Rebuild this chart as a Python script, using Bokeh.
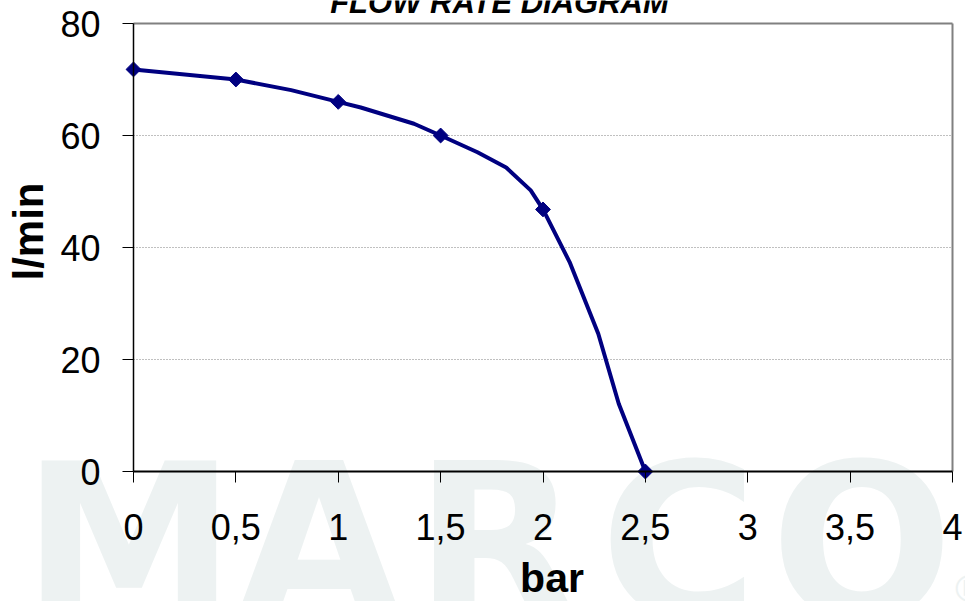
import math
from bokeh.plotting import figure
from bokeh.models import Label, FixedTicker, LinearAxis, Grid, Range1d
from bokeh.embed import file_html
from bokeh.resources import INLINE

# ---- data ----
TITLE = "FLOW RATE DIAGRAM"
X_LABEL = "bar"
Y_LABEL = "l/min"
X_TICKS = [0, 0.5, 1, 1.5, 2, 2.5, 3, 3.5, 4]
X_TICK_LABELS = ["0", "0,5", "1", "1,5", "2", "2,5", "3", "3,5", "4"]
Y_TICKS = [0, 20, 40, 60, 80]
GRID_Y = [20, 40, 60]

# measured points (markers)
pressure_pts = [0, 0.5, 1, 1.5, 2, 2.5]
flow_pts = [71.8, 70, 66, 60, 46.8, 0]

# curve through the measurements (line)
pressure_curve = [0, 0.5, 0.77, 1, 1.11, 1.37, 1.5, 1.68, 1.82, 1.94, 2, 2.13, 2.27, 2.37, 2.5]
flow_curve = [71.8, 70, 68.1, 66, 65.0, 62.1, 60, 57.0, 54.3, 50.2, 46.8, 37.4, 24.6, 12.1, 0]

WATERMARK = ["M", "A", "R", "C", "O"]

# ---- layout (pixels) ----
W, H = 965, 601
X_MIN, X_MAX = 0, 4
Y_MIN, Y_MAX = 0, 80
PLOT_L, PLOT_R, PLOT_T, PLOT_B = 133, 952, 23, 471
sx = (PLOT_R - PLOT_L) / (X_MAX - X_MIN)
sy = (PLOT_B - PLOT_T) / (Y_MAX - Y_MIN)
BASE_K = 0.345  # label anchor sits this fraction of the font size above the drawn baseline


def dx(px):
    return X_MIN + (px - PLOT_L) / sx


def dy(py):
    return Y_MIN + (PLOT_B - py) / sy


NAVY = "#000080"
WM_COLOR = "#edf2f2"

p = figure(width=W, height=H,
           x_range=Range1d(dx(0), dx(W)), y_range=Range1d(dy(H), dy(0)),
           x_axis_location=None, y_axis_location=None,
           output_backend="svg", toolbar_location=None, min_border=0)
p.background_fill_color = "white"
p.border_fill_color = "white"
p.outline_line_color = None
p.xgrid.visible = False
p.ygrid.visible = False

# axes fixed at the origin of the chart
xaxis = LinearAxis(fixed_location=Y_MIN, bounds=(X_MIN, X_MAX),
                   ticker=FixedTicker(ticks=X_TICKS),
                   major_label_overrides={t: l for t, l in zip(X_TICKS, X_TICK_LABELS)})
yaxis = LinearAxis(fixed_location=X_MIN, bounds=(Y_MIN, Y_MAX),
                   ticker=FixedTicker(ticks=Y_TICKS))
for ax in (xaxis, yaxis):
    ax.axis_line_color = "black"
    ax.major_tick_line_color = "black"
    ax.minor_tick_line_color = None
    ax.major_tick_in = 0
    ax.major_tick_out = 11
    ax.major_label_text_font = "Liberation Sans"
    ax.major_label_text_font_size = "36px"
    ax.major_label_text_color = "black"
xaxis.axis_line_width = 2
yaxis.axis_line_width = 1.5
xaxis.major_label_standoff = 31
yaxis.major_label_standoff = 22
p.add_layout(xaxis, "below")
p.add_layout(yaxis, "left")

# dotted horizontal grid limited to the plot area
grid = Grid(dimension=1, ticker=FixedTicker(ticks=GRID_Y),
            grid_line_color="#808080", grid_line_dash="1 2", grid_line_width=1)
try:
    grid.cross_bounds = (X_MIN, X_MAX)
    p.add_layout(grid)
except AttributeError:
    p.segment(x0=X_MIN, x1=X_MAX, y0=GRID_Y, y1=GRID_Y, line_color="#808080",
              line_dash="1 2", line_width=1)

# grey frame border (top and right)
p.segment(x0=[X_MIN, X_MAX], y0=[Y_MAX, Y_MIN], x1=[X_MAX, X_MAX], y1=[Y_MAX, Y_MAX],
          line_color="#808080", line_width=2)

# watermark letters (underlay, light grey)
WM_SIZE = 215
wm_centers = [128.5, 318.5, 496.5, 678.5, 861.5]
wm_base = 460 + 0.729 * WM_SIZE - BASE_K * WM_SIZE
for letter, cx in zip(WATERMARK, wm_centers):
    p.add_layout(Label(x=dx(cx), y=dy(wm_base), text=letter, text_font="DejaVu Sans",
                       text_font_style="bold", text_font_size=f"{WM_SIZE}px",
                       text_color=WM_COLOR, text_align="center",
                       text_baseline="alphabetic", level="underlay"))
p.add_layout(Label(x=dx(950), y=dy(566), text="\u00ae", text_font="DejaVu Sans",
                   text_font_size="38px", text_color=WM_COLOR,
                   text_align="left", text_baseline="top", level="underlay"))

# data
p.line(pressure_curve, flow_curve, line_color=NAVY, line_width=4, line_join="round")
p.scatter(pressure_pts, flow_pts, marker="square", angle=math.pi / 4, size=10.5,
          fill_color=NAVY, line_color=NAVY)

# title and axis titles
p.add_layout(Label(x=dx(499), y=dy(13 - BASE_K * 31), text=TITLE, text_font="Liberation Sans",
                   text_font_style="bold italic", text_font_size="31px",
                   text_color="black", text_align="center", text_baseline="alphabetic"))
p.add_layout(Label(x=dx(551.5), y=dy(592 - BASE_K * 41), text=X_LABEL,
                   text_font="Liberation Sans", text_font_style="bold", text_font_size="41px",
                   text_color="black", text_align="center", text_baseline="alphabetic"))
p.add_layout(Label(x=dx(42 - BASE_K * 42), y=dy(231), text=Y_LABEL,
                   text_font="Liberation Sans", text_font_style="bold", text_font_size="42px",
                   angle=math.pi / 2, text_color="black", text_align="center",
                   text_baseline="alphabetic"))

open("out.html", "w").write(file_html(p, INLINE))
